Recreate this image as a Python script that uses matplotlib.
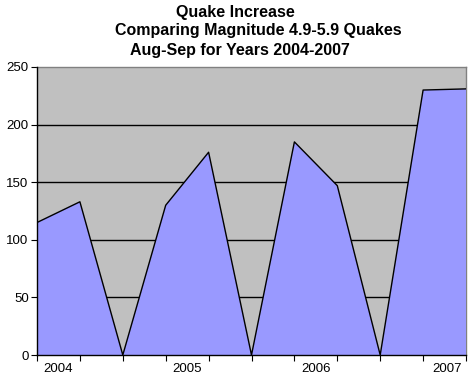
import matplotlib.pyplot as plt
import numpy as np

# Aug/Sep counts per year, with zero points separating the years
labels = ['Aug 2004', 'Sep 2004', '', 'Aug 2005', 'Sep 2005', '',
          'Aug 2006', 'Sep 2006', '', 'Aug 2007', 'Sep 2007']
counts = [115, 133, 0, 130, 176, 0, 185, 147, 0, 230, 231]
year_labels = ['2004', '2005', '2006', '2007']
year_pos = [0.5, 3.5, 6.5, 9.55]

plt.rcParams['font.family'] = ['Liberation Sans', 'DejaVu Sans']

fig = plt.figure(figsize=(4.76, 3.82), dpi=100)
ax = fig.add_axes([37/476, 27/382, 429/476, 288/382])
ax.set_facecolor('#C0C0C0')

x = np.arange(len(counts))
ax.fill_between(x, counts, 0, facecolor='#9999FF', edgecolor='none', zorder=3)
ax.plot(x, counts, color='black', linewidth=1, zorder=4)

ax.set_xlim(0, len(counts) - 1)
ax.set_ylim(0, 250)
ax.set_yticks(range(0, 251, 50))
for v in range(50, 250, 50):
    ax.axhline(v, color='black', linewidth=1, zorder=2)

ax.set_xticks(x)
ax.set_xticklabels([])
ax.set_xticks(year_pos, minor=True)
ax.set_xticklabels(year_labels, minor=True)
ax.tick_params(axis='x', which='minor', length=0, pad=6, labelsize=9.5)
ax.tick_params(axis='x', which='major', length=4, direction='out', color='black')
ax.tick_params(axis='y', length=4, direction='out', labelsize=9.5, pad=2)

for side in ['top', 'right']:
    ax.spines[side].set_color('#808080')
    ax.spines[side].set_linewidth(1)
for side in ['left', 'bottom']:
    ax.spines[side].set_color('black')
    ax.spines[side].set_linewidth(1)
    ax.spines[side].set_zorder(5)

fig.text(235/476, 1 - 13/382, 'Quake Increase', ha='center', va='center',
         fontsize=11.5, fontweight='bold')
fig.text(258/476, 1 - 31/382, 'Comparing Magnitude 4.9-5.9 Quakes', ha='center',
         va='center', fontsize=11.5, fontweight='bold')
fig.text(240/476, 1 - 50/382, 'Aug-Sep for Years 2004-2007', ha='center',
         va='center', fontsize=11.5, fontweight='bold')

fig.savefig('out.png', dpi=100)
